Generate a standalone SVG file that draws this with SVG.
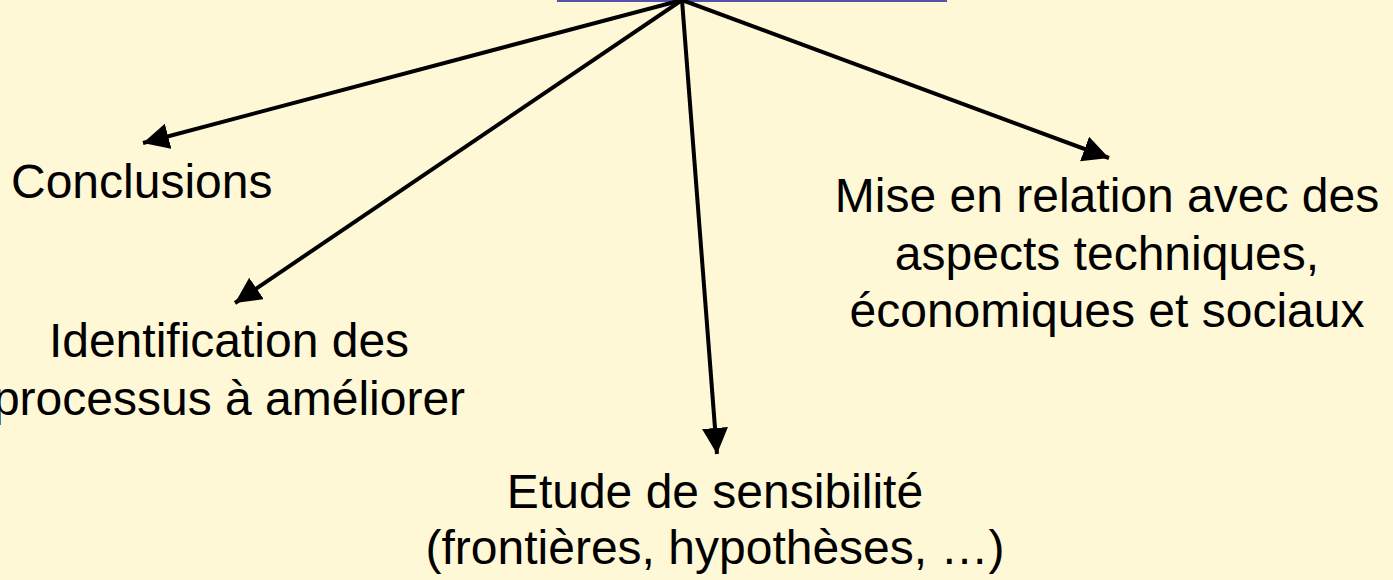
<svg xmlns="http://www.w3.org/2000/svg" width="1393" height="580" viewBox="0 0 1393 580">
  <style>
    .lbl { font-family: "Liberation Sans", Arial, sans-serif; font-size: 48px; fill: #000; }
    .mid { text-anchor: middle; }
    .edge { stroke: #000; stroke-width: 4; fill: none; marker-end: url(#head); }
  </style>
  <defs>
    <marker id="head" markerUnits="userSpaceOnUse" markerWidth="28" markerHeight="28" refX="26" refY="13" orient="auto">
      <path d="M0,0 L26,13 L0,26 Z" fill="#000"/>
    </marker>
  </defs>
  <rect width="1393" height="580" fill="#FFF8D6"/>

  <!-- source box, mostly above the visible area -->
  <g id="source">
    <rect x="558" y="-60" width="388" height="61" fill="none" stroke="#5454B0" stroke-width="2"/>
  </g>

  <g id="connectors">
    <line class="edge" x1="682" y1="0" x2="143" y2="143"/>
    <line class="edge" x1="682" y1="0" x2="235" y2="303"/>
    <line class="edge" x1="682" y1="0" x2="717" y2="454"/>
    <line class="edge" x1="682" y1="0" x2="1109" y2="158"/>
  </g>

  <g id="conclusions">
    <text class="lbl" x="11" y="198">Conclusions</text>
  </g>
  <g id="identification">
    <text class="lbl mid" x="229" y="357">Identification des</text>
    <text class="lbl mid" x="229" y="415">processus à améliorer</text>
  </g>
  <g id="sensibilite">
    <text class="lbl mid" x="715" y="508">Etude de sensibilité</text>
    <text class="lbl mid" x="715" y="564">(frontières, hypothèses, …)</text>
  </g>
  <g id="relation">
    <text class="lbl mid" x="1107" y="212">Mise en relation avec des</text>
    <text class="lbl mid" x="1107" y="270">aspects techniques,</text>
    <text class="lbl mid" x="1107" y="327">économiques et sociaux</text>
  </g>
</svg>
